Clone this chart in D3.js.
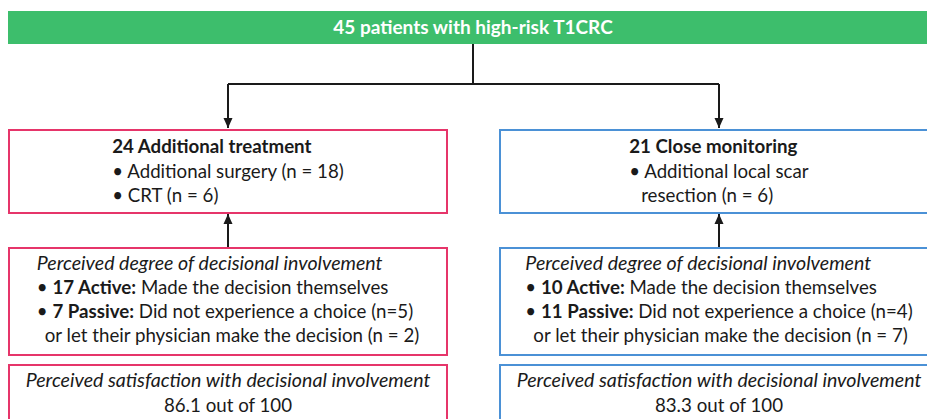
<!DOCTYPE html>
<html>
<head>
<meta charset="utf-8">
<script src="https://cdn.jsdelivr.net/npm/d3@7"></script>
<style>
  body { margin: 0; background: #fff; }
  svg { display: block; font-family: Lato, "Noto Sans", sans-serif; }
</style>
</head>
<body>
<svg id="chart"></svg>
<script>
// flowchart content
const totalPatients = 45
const branches = ['Additional treatment', 'Close monitoring']
const branchCounts = [24, 21]
const branchItems = [
  ['Additional surgery (n = 18)', 'CRT (n = 6)'],
  ['Additional local scar', 'resection (n = 6)']
]
const activeCounts = [17, 10]
const passiveCounts = [7, 11]
const noChoiceCounts = [5, 4]
const physicianCounts = [2, 7]
const satisfaction = [86.1, 83.3]
const branchColors = ['#e6356a', '#4b91d6']

const width = 927, height = 419
const boxW = 438
const fs = 18.7      // regular
const fsI = 19.6     // italic

const svg = d3.select('#chart').attr('width', width).attr('height', height)

// column centers for the two branches
const x = d3.scalePoint().domain(branches).range([228, 719])

svg.append('defs').append('marker')
  .attr('id', 'arrow')
  .attr('markerUnits', 'userSpaceOnUse')
  .attr('markerWidth', 10).attr('markerHeight', 10)
  .attr('viewBox', '0 -5 10 10')
  .attr('refX', 10).attr('refY', 0)
  .attr('orient', 'auto')
  .append('path')
  .attr('d', 'M0,-4.5L10,0L0,4.5Z')
  .attr('fill', '#1a1a1a')

// top banner
svg.append('rect')
  .attr('x', 8).attr('y', 11).attr('width', width).attr('height', 33)
  .attr('fill', '#3dbe6c')
svg.append('text')
  .attr('x', 473).attr('y', 34)
  .attr('text-anchor', 'middle')
  .attr('fill', '#fff').attr('font-weight', 700).attr('font-size', 19)
  .text(totalPatients + ' patients with high-risk T1CRC')

// connectors
const line = svg.append('g').attr('stroke', '#1a1a1a').attr('stroke-width', 2).attr('fill', 'none')
line.append('path').attr('d', `M473,44V84`)
line.append('path').attr('d', `M${x(branches[0])},84H${x(branches[1])}`)
branches.forEach(b => {
  line.append('path').attr('d', `M${x(b)},84V128`).attr('marker-end', 'url(#arrow)')
  line.append('path').attr('d', `M${x(b)},248V214`).attr('marker-end', 'url(#arrow)')
})

// boxes
const boxes = [{y: 130, h: 83}, {y: 248, h: 107}, {y: 365, h: 80}]
branches.forEach((b, i) => {
  boxes.forEach(bx => {
    svg.append('rect')
      .attr('x', x(b) - boxW / 2).attr('y', bx.y)
      .attr('width', boxW).attr('height', bx.h)
      .attr('fill', 'none').attr('stroke', branchColors[i]).attr('stroke-width', 2)
  })
})

// helper: left aligned text block centered on column
function block(cx, lines) {
  const g = svg.append('g')
  lines.forEach(l => {
    const t = g.append('text').attr('x', l.dx || 0).attr('y', l.y)
      .attr('font-size', l.italic ? fsI : fs).attr('fill', '#1a1a1a')
    if (l.italic) t.attr('font-style', 'italic')
    l.parts.forEach(p => {
      const s = t.append('tspan').text(p.t)
      if (p.b) s.attr('font-weight', 700)
    })
  })
  const bb = g.node().getBBox()
  g.attr('transform', `translate(${cx - bb.width / 2 - bb.x},0)`)
}

branches.forEach((b, i) => {
  const cx = x(b)
  const items = branchItems[i]
  const l1 = [{y: 153, parts: [{t: branchCounts[i] + ' ' + b, b: true}]}]
  if (i === 0) {
    items.forEach((it, k) => l1.push({y: 178 + k * 24, parts: [{t: '• ' + it}]}))
  } else {
    l1.push({y: 178, parts: [{t: '• ' + items[0]}]})
    l1.push({y: 202, dx: 12, parts: [{t: items[1]}]})
  }
  block(cx, l1)

  block(cx, [
    {y: 270, italic: true, parts: [{t: 'Perceived degree of decisional involvement'}]},
    {y: 294, parts: [{t: '• '}, {t: activeCounts[i] + ' Active:', b: true}, {t: ' Made the decision themselves'}]},
    {y: 318, parts: [{t: '• '}, {t: passiveCounts[i] + ' Passive:', b: true}, {t: ` Did not experience a choice (n=${noChoiceCounts[i]})`}]},
    {y: 342, dx: 8, parts: [{t: `or let their physician make the decision (n = ${physicianCounts[i]})`}]}
  ])

  svg.append('text').attr('x', cx).attr('y', 387).attr('text-anchor', 'middle')
    .attr('font-size', fsI).attr('font-style', 'italic').attr('fill', '#1a1a1a')
    .text('Perceived satisfaction with decisional involvement')
  svg.append('text').attr('x', cx).attr('y', 412).attr('text-anchor', 'middle')
    .attr('font-size', fs).attr('fill', '#1a1a1a')
    .text(satisfaction[i] + ' out of 100')
})
</script>
</body>
</html>
